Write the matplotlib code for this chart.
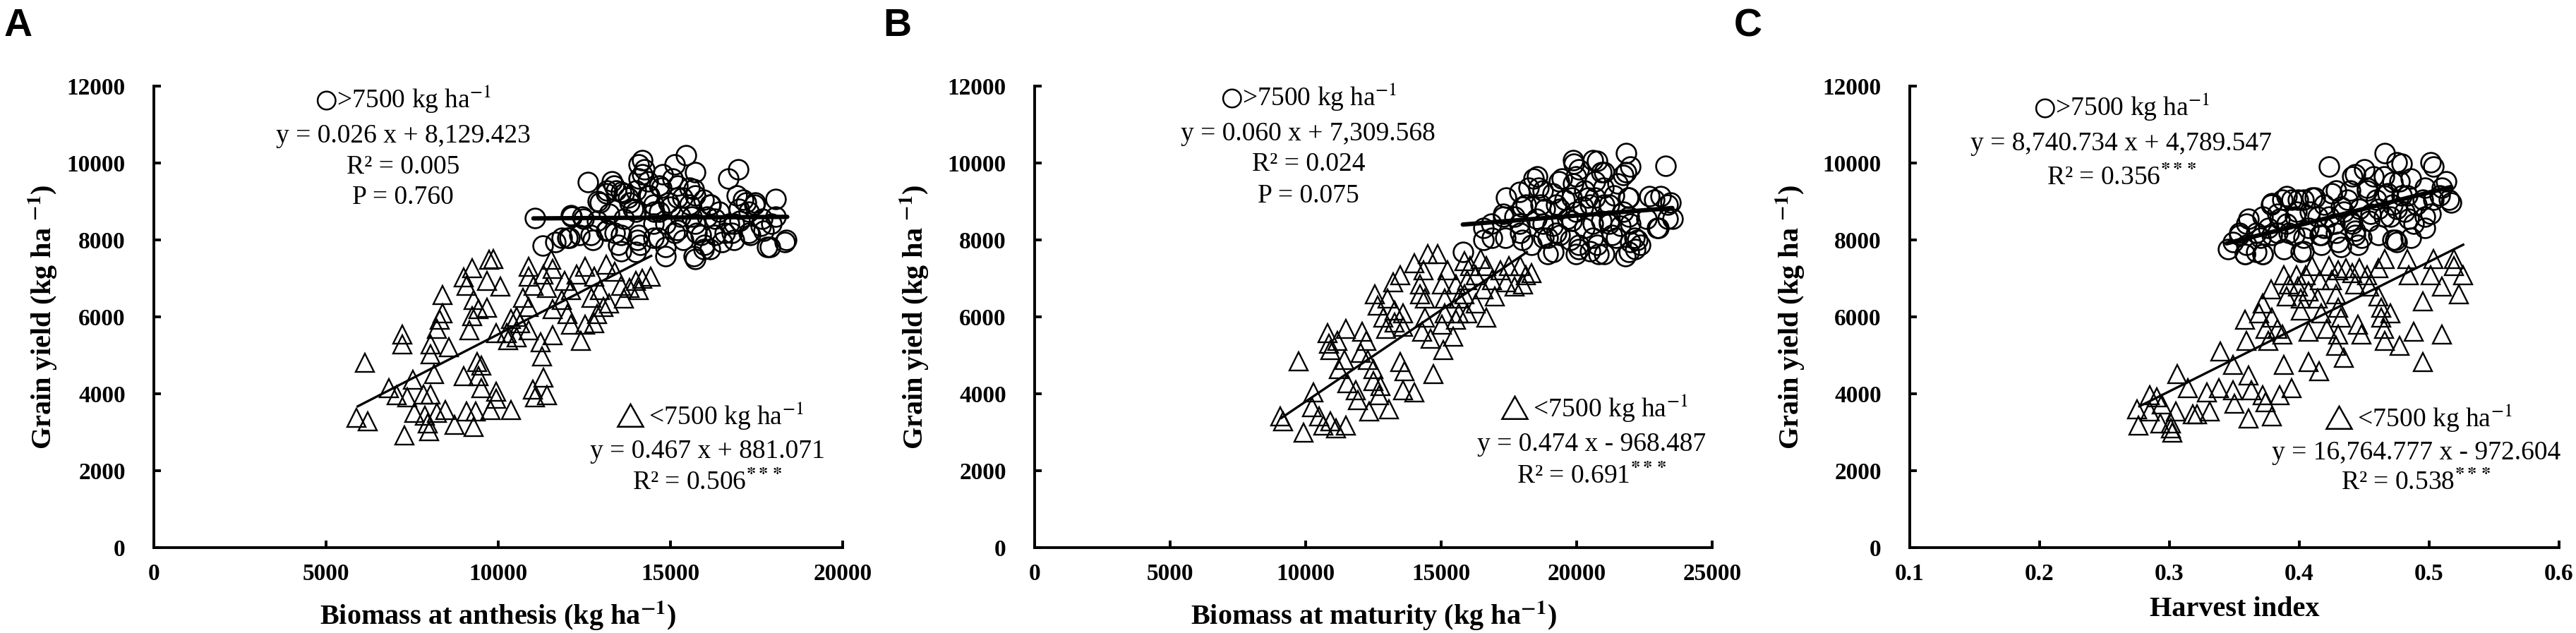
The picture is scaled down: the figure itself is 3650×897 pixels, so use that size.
import matplotlib
matplotlib.use('Agg')
import matplotlib.pyplot as plt

plt.rcParams['font.family'] = ['Liberation Serif', 'DejaVu Sans']
plt.rcParams['mathtext.fontset'] = 'stix'

# ---------------- data ----------------
y_ticks = [0, 2000, 4000, 6000, 8000, 10000, 12000]
y_ticklabels = ['0', '2000', '4000', '6000', '8000', '10000', '12000']

# Panel A: biomass at anthesis
a_xticks = [0, 5000, 10000, 15000, 20000]
a_xticklabels = ['0', '5000', '10000', '15000', '20000']
a_lo_x = [6120, 5890, 6210, 6820, 7220, 7220, 7050, 7350, 7270, 7570,
          7870, 7960, 8000, 7830, 8130, 8040, 8040, 8220, 8300, 8390,
          8390, 8560, 8040, 8220, 8470, 8730, 9080, 9340, 9290, 8990,
          9380, 9510, 9420, 9510, 9940, 9940, 9770, 10370, 9160, 9250,
          9420, 9680, 9290, 9080, 8990, 9250, 9730, 9850, 9680, 10070,
          9940, 10240, 10370, 10540, 10890, 10890, 11020, 10720, 10630, 10890,
          11230, 11280, 11320, 11060, 11410, 11540, 11580, 11410, 11580, 11580,
          11840, 12010, 12100, 12400, 11920, 12270, 12530, 12790, 12700, 12960,
          12870, 12790, 13050, 13130, 13390, 13560, 13820, 13990, 14170, 14430,
          14080, 13650, 13220, 12530, 12100, 10540, 10290, 10890, 11320, 7530,
          11000]
a_lo_y = [4810, 3380, 3280, 4150, 5550, 5280, 3960, 3900, 2920, 3510,
          3440, 3230, 3020, 3990, 4510, 5030, 5280, 5680, 5920, 6100,
          6560, 5220, 3990, 3510, 3570, 3200, 3540, 3540, 3140, 4450,
          4820, 4730, 4450, 4150, 4060, 3870, 3570, 3570, 5650, 6010,
          6200, 6230, 6440, 6810, 7020, 7270, 7480, 7510, 6930, 6780,
          5580, 5580, 5950, 6000, 7300, 7050, 6810, 6500, 5830, 5650,
          5340, 4970, 4420, 3900, 3960, 7480, 7240, 6750, 6200, 5520,
          6440, 6070, 5800, 5370, 6930, 7110, 7300, 7050, 6500, 6690,
          6070, 5830, 6260, 7360, 7170, 6810, 6750, 6930, 6990, 7050,
          6690, 6470, 6350, 5800, 6690, 5460, 5400, 6260, 7110, 4360,
          4110]
a_hi_x = [11060, 11300, 12600, 12010, 12100, 12440, 12740, 12960, 13300, 13430,
          13650, 13130, 13390, 14080, 14170, 14170, 13990, 14340, 14510, 14680,
          13990, 13650, 14080, 14510, 14860, 15120, 15460, 15720, 15200, 15550,
          15200, 15550, 15290, 15720, 15890, 15980, 15720, 16150, 16410, 16580,
          16670, 16970, 16930, 17190, 17010, 17440, 18050, 18050, 18310, 17880,
          17270, 17620, 14680, 14860, 14510, 16060, 15370, 16500, 16840, 13990,
          13480, 12870, 13820, 14940, 15720, 14340, 14770, 11840, 12360, 16150,
          17270, 17700, 16840, 13130, 15120,
          13360, 13570, 14250, 14080, 15070, 15680, 12880, 13160, 13770, 14390,
          14730, 15340, 15960, 16160, 17120, 17460, 16980, 12130, 12470, 13220,
          13910, 14520, 15000, 15620, 16300, 16710, 17660, 17940, 12060, 12680,
          13160, 13570, 14040, 14660, 15210, 15750, 16300, 16780, 17320, 17800,
          18350, 14860, 15680, 15960, 13570, 14110, 11650]
a_hi_y = [8560, 7850, 9500, 8060, 8640, 8610, 8000, 8980, 9530, 9280,
          9220, 8240, 8180, 9960, 10080, 9710, 9280, 9160, 8920, 8730,
          8730, 8550, 8120, 8060, 7820, 9960, 10200, 9770, 9410, 9350,
          9100, 8920, 8610, 8430, 8120, 7880, 7510, 8920, 8730, 8180,
          9590, 9840, 9160, 8980, 8490, 8920, 9070, 8610, 7940, 7820,
          8180, 8370, 9410, 8430, 8430, 8610, 8000, 7940, 8000, 7690,
          7880, 8490, 8980, 8980, 9160, 9530, 9710, 8060, 8120, 7760,
          8730, 8240, 8430, 9220, 8180,
          9410, 9250, 9840, 9590, 9590, 9320, 9010, 9290, 9100, 9160,
          9350, 9100, 9040, 8920, 9040, 8980, 8800, 8610, 8550, 8670,
          8800, 8730, 8860, 8610, 8550, 8430, 8550, 8430, 8060, 8120,
          8250, 8120, 8000, 8060, 8250, 8180, 8120, 8180, 8120, 7820,
          8000, 7570, 7570, 7760, 7700, 7880, 7940]
a_fit_lo_x = [5890, 14470]
a_fit_lo_y = [3660, 7600]
a_fit_hi_x = [11020, 18390]
a_fit_hi_y = [8560, 8600]

# Panel B: biomass at maturity
b_xticks = [0, 5000, 10000, 15000, 20000, 25000]
b_xticklabels = ['0', '5000', '10000', '15000', '20000', '25000']
b_lo_x = [9730, 9060, 9160, 9930, 10290, 10240, 10500, 10650, 10910, 11120,
          11480, 10810, 10860, 10910, 11170, 11480, 11420, 11220, 11530, 11840,
          11940, 12090, 12250, 12040, 12300, 12510, 12510, 12350, 12760, 12710,
          13070, 12560, 12660, 12870, 12970, 13020, 13230, 13480, 13280, 13280,
          13590, 13590, 13480, 13640, 13590, 14000, 14000, 14360, 14510, 14870,
          14210, 14410, 14410, 14310, 14620, 14720, 15080, 15030, 15130, 15130,
          15030, 15240, 15540, 15650, 15540, 15440, 15850, 16060, 15960, 15850,
          15960, 16270, 16270, 16470, 16680, 16570, 16680, 16880, 16990, 17190,
          17400, 17500, 17710, 18020, 18330, 18120, 17910, 15650, 14210]
b_lo_y = [4850, 3410, 3290, 2990, 4030, 3660, 3410, 3170, 3290, 3110,
          3170, 5580, 5310, 5130, 5370, 5680, 4880, 4640, 4270, 4090,
          3840, 5620, 5370, 5060, 4880, 4640, 4330, 3540, 4210, 3960,
          3600, 6590, 6290, 5980, 5680, 6470, 6900, 7080, 6170, 5860,
          6100, 5740, 4820, 4580, 4090, 4030, 7390, 7210, 7630, 7630,
          6590, 6470, 5980, 5620, 5430, 4510, 5130, 5800, 6100, 6470,
          6840, 7210, 6840, 6470, 5920, 5490, 7450, 7330, 6960, 6590,
          6100, 6350, 7080, 7510, 7330, 6720, 5980, 6960, 6530, 7210,
          6900, 7330, 6780, 6840, 7140, 7080, 7330, 6100, 6840]
b_hi_x = [16570, 16570, 16880, 17300, 17400, 18220, 18120, 17910, 18330, 18530,
          18740, 18840, 18940, 19150, 19360, 19560, 19660, 19870, 20080, 19870,
          20280, 20490, 20280, 20080, 20590, 20590, 20900, 21000, 21210, 20900,
          20800, 21310, 21520, 21830, 21830, 21930, 21930, 22140, 21930, 21620,
          23270, 22860, 23370, 23370, 22960, 22340, 19250, 18740, 19970, 20690,
          17710, 17890, 21210, 19250, 19770, 15800,
          19900, 20760, 21980, 21720, 21020, 19980, 20680, 18420, 18590, 19460,
          19110, 19810, 20420, 21370, 21890, 22670, 23110, 23460, 17990, 18680,
          19380, 20240, 21020, 21720, 23540, 23020, 22590, 16860, 17290, 17900,
          18510, 19110, 19810, 20590, 21200, 21980, 22240, 17380, 17990, 18770,
          19380, 20070, 20760, 21460, 21980, 18940, 19980, 20500, 21020, 21810,
          22150]
b_hi_y = [8310, 8000, 8060, 8670, 9100, 9350, 8920, 8180, 7880, 9650,
          9280, 8800, 8060, 7690, 9530, 9040, 8550, 10080, 9840, 9470,
          9280, 8920, 8310, 7760, 8060, 10080, 9770, 9350, 8920, 8490,
          7630, 8120, 9470, 10260, 9770, 9100, 8610, 8060, 7690, 8370,
          9930, 9040, 8920, 8550, 8310, 7880, 8180, 8430, 8730, 9100,
          8610, 9240, 8490, 8920, 8000, 7690,
          9990, 10050, 9900, 9680, 9770, 9650, 9530, 9590, 9350, 9590,
          9220, 9100, 9100, 9160, 9100, 9130, 9130, 8980, 8860, 8920,
          8800, 8860, 8920, 8730, 8550, 8310, 8550, 8430, 8610, 8430,
          8550, 8370, 8490, 8430, 8430, 8430, 8000, 8060, 8000, 8060,
          8120, 7880, 7880, 8060, 7940, 7630, 7630, 7700, 7630, 7570,
          7760]
b_fit_lo_x = [9060, 18200]
b_fit_lo_y = [3350, 7700]
b_fit_hi_x = [15800, 23530]
b_fit_hi_y = [8400, 8830]

# Panel C: harvest index
c_xticks = [0.1, 0.2, 0.3, 0.4, 0.5, 0.6]
c_xticklabels = ['0.1', '0.2', '0.3', '0.4', '0.5', '0.6']
c_lo_x = [0.275, 0.276, 0.285, 0.290, 0.285, 0.294, 0.293, 0.301, 0.302, 0.301,
          0.305, 0.306, 0.314, 0.318, 0.321, 0.329, 0.331, 0.339, 0.338, 0.349,
          0.349, 0.350, 0.361, 0.361, 0.359, 0.358, 0.363, 0.372, 0.374, 0.379,
          0.385, 0.388, 0.394, 0.378, 0.376, 0.374, 0.369, 0.372, 0.379, 0.383,
          0.387, 0.388, 0.392, 0.390, 0.398, 0.399, 0.401, 0.401, 0.405, 0.407,
          0.407, 0.407, 0.415, 0.410, 0.416, 0.414, 0.417, 0.421, 0.423, 0.425,
          0.428, 0.430, 0.432, 0.430, 0.428, 0.434, 0.430, 0.436, 0.441, 0.443,
          0.445, 0.448, 0.446, 0.452, 0.454, 0.461, 0.461, 0.463, 0.463, 0.465,
          0.466, 0.470, 0.466, 0.477, 0.483, 0.484, 0.488, 0.495, 0.495, 0.503,
          0.501, 0.510, 0.510, 0.519, 0.519, 0.526, 0.523]
c_lo_y = [3600, 3170, 3960, 3900, 3540, 3720, 3230, 3110, 2990, 3230,
          3540, 4510, 4150, 3470, 3470, 4030, 3540, 5100, 4150, 4760,
          4090, 3750, 4480, 3350, 5370, 5920, 4090, 3960, 3780, 3410,
          3960, 4760, 4150, 6720, 5370, 5680, 6100, 6350, 5980, 5680,
          5550, 7080, 6840, 6530, 7080, 6780, 6470, 6170, 7080, 6660,
          5620, 4820, 4580, 7330, 6960, 6470, 6100, 5680, 7330, 6960,
          6590, 6230, 5980, 5550, 5250, 4940, 7210, 7270, 7140, 6840,
          5800, 5550, 7270, 7080, 6780, 7270, 6530, 6230, 5980, 5680,
          5370, 6100, 7510, 5250, 7510, 7080, 5620, 4820, 6410, 7510,
          7080, 6780, 5550, 7510, 7330, 7080, 6590]
c_hi_x = [0.345, 0.349, 0.354, 0.359, 0.358, 0.367, 0.370, 0.376, 0.378, 0.372,
          0.383, 0.387, 0.390, 0.394, 0.398, 0.401, 0.403, 0.407, 0.412, 0.414,
          0.417, 0.419, 0.423, 0.425, 0.427, 0.430, 0.434, 0.437, 0.441, 0.443,
          0.448, 0.450, 0.452, 0.455, 0.459, 0.466, 0.465, 0.468, 0.465, 0.472,
          0.475, 0.477, 0.481, 0.483, 0.488, 0.497, 0.495, 0.501, 0.503, 0.513,
          0.515, 0.510, 0.396, 0.383, 0.359, 0.441, 0.472, 0.501, 0.419, 0.408,
          0.479, 0.517, 0.443, 0.457, 0.472, 0.486, 0.497, 0.428, 0.439, 0.452,
          0.465, 0.479, 0.508, 0.390, 0.379, 0.399, 0.410, 0.432, 0.446, 0.461,
          0.475, 0.490, 0.503, 0.361, 0.372, 0.385, 0.397, 0.423, 0.439, 0.454,
          0.470, 0.484, 0.497, 0.354, 0.367, 0.379, 0.392, 0.403, 0.416, 0.428,
          0.443, 0.461, 0.474, 0.486, 0.358, 0.372, 0.388, 0.403, 0.417, 0.432,
          0.445, 0.475]
c_hi_y = [7760, 7940, 8180, 8430, 7630, 7690, 8060, 8310, 8920, 7630,
          8670, 9040, 8430, 9040, 8730, 7690, 9040, 8310, 9100, 8610,
          8120, 8920, 9900, 9220, 8430, 7940, 8730, 9040, 9650, 8240,
          8060, 9840, 9350, 8670, 9040, 10260, 9650, 9220, 8610, 8000,
          10020, 9530, 8730, 9160, 8430, 8310, 9040, 10020, 9900, 9530,
          9040, 9350, 8120, 8180, 7880, 8430, 8920, 8670, 8310, 8730,
          9990, 8980, 9710, 9650, 9500, 9590, 9350, 9290, 9290, 9290,
          9160, 9160, 9160, 9130, 8950, 9040, 9100, 8860, 8800, 8800,
          8800, 8920, 9040, 8550, 8610, 8550, 8610, 8610, 8490, 8490,
          8610, 8550, 8610, 8120, 8180, 8120, 8180, 8060, 8120, 8180,
          8120, 8120, 8000, 8060, 7630, 7630, 7760, 7700, 7880, 7820,
          7880, 7940]
c_fit_lo_x = [0.276, 0.527]
c_fit_lo_y = [3660, 7890]
c_fit_hi_x = [0.344, 0.517]
c_fit_hi_y = [7910, 9380]

# equation text blocks
a_upper = ['$○$>7500 kg ha$^{-1}$', 'y = 0.026 x + 8,129.423', 'R² = 0.005', 'P = 0.760']
a_lower = [r'$\triangle$<7500 kg ha$^{-1}$', 'y = 0.467 x + 881.071', r'R² = 0.506$^{\mathbf{***}}$']
b_upper = ['$○$>7500 kg ha$^{-1}$', 'y = 0.060 x + 7,309.568', 'R² = 0.024', 'P = 0.075']
b_lower = [r'$\triangle$<7500 kg ha$^{-1}$', 'y = 0.474 x - 968.487', r'R² = 0.691$^{\mathbf{***}}$']
c_upper = ['$○$>7500 kg ha$^{-1}$', 'y = 8,740.734 x + 4,789.547', r'R² = 0.356$^{\mathbf{***}}$']
c_lower = [r'$\triangle$<7500 kg ha$^{-1}$', 'y = 16,764.777 x - 972.604', r'R² = 0.538$^{\mathbf{***}}$']

ylabel = r'Grain yield (kg ha $^{\mathbf{-1}}$)'


def draw_panel(rect, lo_x, lo_y, hi_x, hi_y, fit_lo, fit_hi, xlim, xticks, xticklabels,
               xlabel, ylabel_x, xlabel_y, upper, upper_x, upper_y, lower, lower_x, lower_y):
    ax = fig.add_axes(rect)
    ax.plot(lo_x, lo_y, linestyle='none', marker='^', ms=19, mfc='none', mec='black', mew=1.7)
    ax.plot(hi_x, hi_y, linestyle='none', marker='o', ms=20, mfc='none', mec='black', mew=1.9)
    ax.plot(fit_lo[0], fit_lo[1], color='black', lw=2.4, solid_capstyle='butt')
    ax.plot(fit_hi[0], fit_hi[1], color='black', lw=4.5, solid_capstyle='round')

    ax.set_xlim(xlim)
    ax.set_ylim(0, 12000)
    ax.set_xticks(xticks)
    ax.set_xticklabels(xticklabels, fontweight='bold', fontsize=24)
    ax.set_yticks(y_ticks)
    ax.set_yticklabels(y_ticklabels, fontweight='bold', fontsize=24)
    ax.tick_params(direction='in', length=7, width=2.8)
    ax.tick_params(axis='y', pad=29)
    ax.tick_params(axis='x', pad=16)
    for side in ['top', 'right']:
        ax.spines[side].set_visible(False)
    for side in ['left', 'bottom']:
        ax.spines[side].set_linewidth(2.8)

    ax.set_xlabel(xlabel, fontweight='bold', fontsize=29)
    ax.xaxis.set_label_coords(0.5, xlabel_y)
    ax.set_ylabel(ylabel, fontweight='bold', fontsize=29)
    ax.yaxis.set_label_coords(ylabel_x, 0.5)

    for s, yy in zip(upper, upper_y):
        ax.text(upper_x, yy, s, transform=ax.transAxes, ha='center', va='baseline', fontsize=27)
    for s, yy in zip(lower, lower_y):
        ax.text(lower_x, yy, s, transform=ax.transAxes, ha='center', va='baseline', fontsize=27)
    return ax


fig = plt.figure(figsize=(36.5, 8.97), dpi=100)

draw_panel([0.05973, 0.13489, 0.26740, 0.72910], a_lo_x, a_lo_y, a_hi_x, a_hi_y,
           (a_fit_lo_x, a_fit_lo_y), (a_fit_hi_x, a_fit_hi_y), (0, 20000), a_xticks, a_xticklabels,
           r'Biomass at anthesis (kg ha$^{\mathbf{-1}}$)', -0.137, -0.112,
           a_upper, 0.362, [0.953, 0.878, 0.810, 0.745],
           a_lower, 0.804, [0.266, 0.194, 0.125])

draw_panel([0.40164, 0.13489, 0.26301, 0.72910], b_lo_x, b_lo_y, b_hi_x, b_hi_y,
           (b_fit_lo_x, b_fit_lo_y), (b_fit_hi_x, b_fit_hi_y), (0, 25000), b_xticks, b_xticklabels,
           r'Biomass at maturity (kg ha$^{\mathbf{-1}}$)', -0.153, -0.112,
           b_upper, 0.404, [0.957, 0.882, 0.817, 0.748],
           b_lower, 0.822, [0.283, 0.209, 0.139])

draw_panel([0.74137, 0.13489, 0.25205, 0.72910], c_lo_x, c_lo_y, c_hi_x, c_hi_y,
           (c_fit_lo_x, c_fit_lo_y), (c_fit_hi_x, c_fit_hi_y), (0.1, 0.6), c_xticks, c_xticklabels,
           'Harvest index', -0.159, -0.105,
           c_upper, 0.326, [0.936, 0.861, 0.786],
           c_lower, 0.780, [0.261, 0.191, 0.125])

for letter, x in [('A', 0.0014), ('B', 0.3427), ('C', 0.6732)]:
    fig.text(x, 0.943, letter, fontfamily='Liberation Sans', fontweight='bold',
             fontsize=40, va='baseline', ha='left')

fig.savefig('out.png', dpi=100)
